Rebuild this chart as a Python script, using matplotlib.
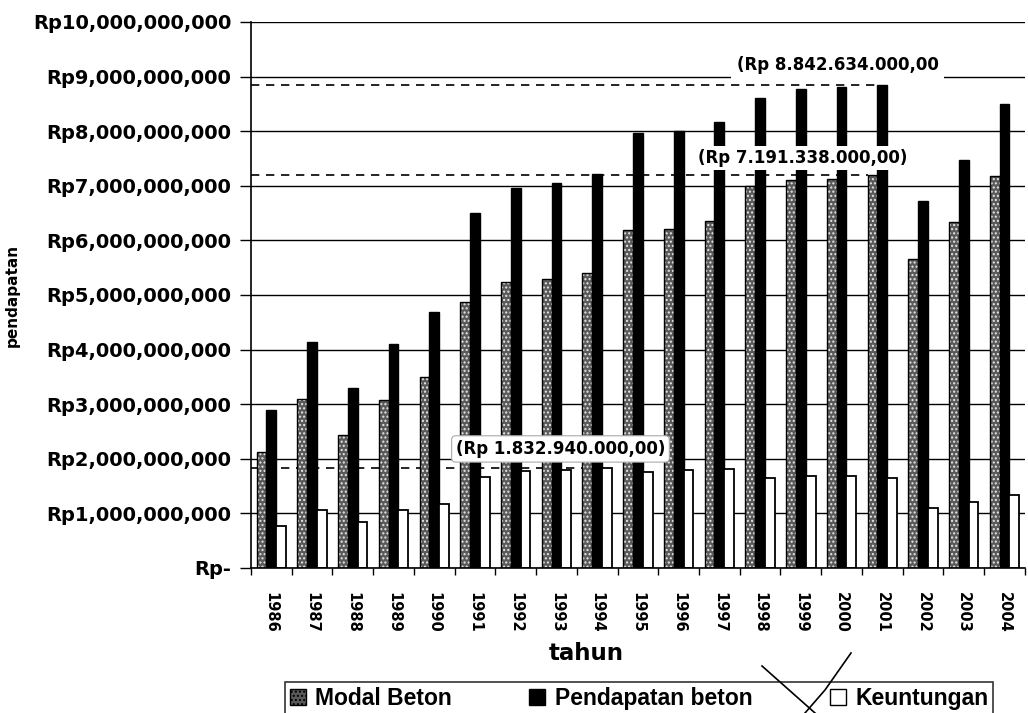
import matplotlib.pyplot as plt
import numpy as np
from matplotlib.patches import Patch
from matplotlib.lines import Line2D
from matplotlib.ticker import FuncFormatter, FixedLocator

# data (dalam miliar rupiah)
tahun = [1986, 1987, 1988, 1989, 1990, 1991, 1992, 1993, 1994, 1995,
         1996, 1997, 1998, 1999, 2000, 2001, 2002, 2003, 2004]
modal = [2.13, 3.09, 2.44, 3.07, 3.49, 4.88, 5.24, 5.29, 5.40, 6.19,
         6.21, 6.36, 6.99, 7.10, 7.12, 7.191338, 5.65, 6.34, 7.17]
pendapatan = [2.89, 4.14, 3.30, 4.10, 4.69, 6.50, 6.96, 7.05, 7.21, 7.96,
              8.00, 8.17, 8.61, 8.77, 8.80, 8.842634, 6.73, 7.47, 8.50]
keuntungan = [0.77, 1.07, 0.85, 1.07, 1.18, 1.67, 1.77, 1.79, 1.83294, 1.76,
              1.79, 1.82, 1.64, 1.68, 1.68, 1.65, 1.10, 1.21, 1.34]

modal = np.array(modal) * 1e9
pendapatan = np.array(pendapatan) * 1e9
keuntungan = np.array(keuntungan) * 1e9


def rupiah(v):
    # format gaya Indonesia: titik ribuan, koma desimal
    s = '{:,.2f}'.format(v)
    return s.replace(',', '#').replace('.', ',').replace('#', '.')


fig = plt.figure(figsize=(10.28, 7.13), dpi=100)
ax = fig.add_axes([0.244, 0.2034, 0.753, 0.7658])

x = np.arange(len(tahun))
w = 0.24

ax.bar(x - w, modal, w, color='#5a5a5a', hatch='....', edgecolor='#e8e8e8', linewidth=0, zorder=2)
ax.bar(x - w, modal, w, fill=False, edgecolor='black', linewidth=1, zorder=2.1)
ax.bar(x, pendapatan, w, color='black', edgecolor='black', linewidth=1, zorder=2)
ax.bar(x + w, keuntungan, w, color='white', edgecolor='black', linewidth=1.3, zorder=2)

ax.set_xlim(-0.5, len(tahun) - 0.5)
ax.set_ylim(0, 10e9)
ax.set_yticks(np.arange(0, 10.5e9, 1e9))
ax.yaxis.set_major_formatter(FuncFormatter(lambda v, p: 'Rp-' if v == 0 else 'Rp{:,.0f}'.format(v)))
ax.grid(axis='y', color='black', linewidth=1)
ax.set_axisbelow(True)

ax.set_xticks(x)
ax.set_xticklabels([str(t) for t in tahun], rotation=270, fontsize=10.5,
                   fontweight='bold', va='top', ha='center')
ax.xaxis.set_minor_locator(FixedLocator(np.arange(-0.5, len(tahun), 1)))
ax.tick_params(axis='x', which='major', length=0, pad=17)
ax.tick_params(axis='x', which='minor', length=5, width=1, direction='out')
ax.tick_params(axis='y', length=8, width=1, direction='out', pad=6)
for lab in ax.get_yticklabels():
    lab.set_fontsize(14)
    lab.set_fontweight('bold')

for s in ['top', 'right']:
    ax.spines[s].set_visible(False)
ax.spines['left'].set_linewidth(1.2)
ax.spines['bottom'].set_linewidth(1.2)

# garis putus-putus ke nilai tertinggi
i_p = int(np.argmax(pendapatan))
i_m = int(np.argmax(modal))
i_k = int(np.argmax(keuntungan))
ax.plot([-0.5, i_p - w / 2], [pendapatan[i_p]] * 2, color='black', lw=1.2, dashes=(5, 4), zorder=1.5)
ax.plot([-0.5, i_m - w * 1.5], [modal[i_m]] * 2, color='black', lw=1.2, dashes=(5, 4), zorder=1.5)
ax.plot([-0.5, i_k + w / 2], [keuntungan[i_k]] * 2, color='black', lw=1.2, dashes=(5, 4), zorder=1.5)

ax.text(13.9, 9.21e9, '(Rp ' + rupiah(pendapatan[i_p]), fontsize=12, fontweight='bold',
        ha='center', va='center', zorder=5,
        bbox=dict(boxstyle='square,pad=0.35', facecolor='white', edgecolor='none'))
ax.text(13.05, 7.51e9, '(Rp ' + rupiah(modal[i_m]) + ')', fontsize=12, fontweight='bold',
        ha='center', va='center', zorder=5,
        bbox=dict(boxstyle='square,pad=0.2', facecolor='white', edgecolor='none'))
ax.text(7.1, 2.18e9, '(Rp ' + rupiah(keuntungan[i_k]) + ')', fontsize=12, fontweight='bold',
        ha='center', va='center', zorder=5,
        bbox=dict(boxstyle='round,pad=0.25', facecolor='white', edgecolor='#aaaaaa', linewidth=0.8))

fig.text(586 / 1028, 1 - 653 / 713, 'tahun', fontsize=16.5, fontweight='bold', ha='center', va='center')
fig.text(12 / 1028, 1 - 295 / 713, 'pendapatan', fontsize=11, fontweight='bold',
         rotation=90, ha='center', va='center')

handles = [Patch(facecolor='#5a5a5a', edgecolor='black', hatch='....'),
           Patch(facecolor='black', edgecolor='black'),
           Patch(facecolor='white', edgecolor='black')]
leg = fig.legend(handles, ['Modal Beton', 'Pendapatan beton', 'Keuntungan'],
                 loc='upper left', bbox_to_anchor=(285 / 1028, 0, 708 / 1028, 1 - 682 / 713),
                 mode='expand', ncol=3,
                 prop={'family': 'Liberation Sans', 'size': 16.5, 'weight': 'bold'},
                 frameon=True, fancybox=False, edgecolor='black',
                 handlelength=0.7, handleheight=0.7, handletextpad=0.4,
                 borderpad=0.2, borderaxespad=0)
leg.get_frame().set_linewidth(1.2)

# coretan pena di sekitar legenda
fig.add_artist(Line2D([762 / 1028, 815 / 1028], [1 - 666 / 713, 0], color='black', lw=1.2, zorder=10))
fig.add_artist(Line2D([851 / 1028, 825 / 1028, 805 / 1028], [1 - 653 / 713, 1 - 690 / 713, 0],
                      color='black', lw=1.2, zorder=10))

fig.savefig('out.png', dpi=100)
